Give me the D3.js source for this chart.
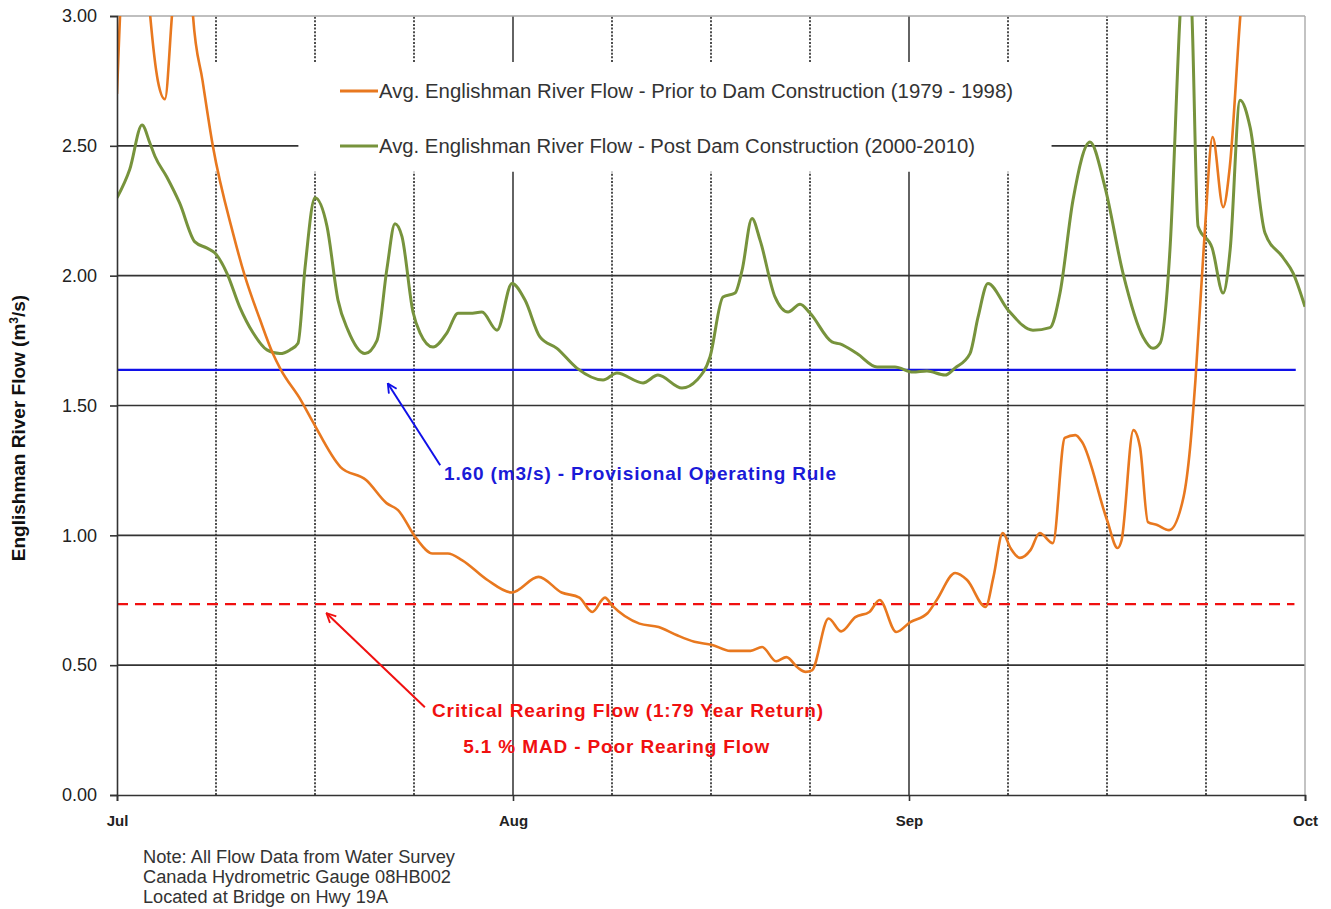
<!DOCTYPE html>
<html>
<head>
<meta charset="utf-8">
<script src="https://cdn.jsdelivr.net/npm/d3@7"></script>
<style>
  body { margin: 0; background: #fff; }
  text { font-family: "Liberation Sans", Arial, sans-serif; }
</style>
</head>
<body>
<script>
// season day 0 = Jul 1, months drawn with equal width
var monthLabels = ["Jul", "Aug", "Sep", "Oct"];
var monthStartDays = [0, 31, 62, 92];
var yTicks = [0, 0.5, 1, 1.5, 2, 2.5, 3];

// Avg. flow prior to dam construction (1979 - 1998)
var preDays = [0, 0.7, 2.0, 2.6, 3.2, 3.75, 4.3, 4.9, 5.5, 5.95, 6.7, 7.5, 9.1, 10.0, 11.2, 12.2, 12.8,
  14.4, 15.3, 17.5, 19.5, 21.1, 22.0, 23.4, 24.7, 25.9, 27.0, 29.0, 30.9, 33.0, 34.8, 36.2, 37.2,
  38.2, 38.75, 40.9, 42.4, 43.8, 45.2, 46.6, 48.0, 49.6, 50.5, 51.6, 52.4, 53.3, 53.9, 54.4, 55.7,
  56.7, 57.8, 58.9, 59.7, 61.0, 62.1, 63.4, 64.1, 65.5, 66.4, 67.8, 68.4, 69.1, 69.7, 70.4, 71.2,
  71.9, 72.9, 73.8, 74.6, 75.1, 77.0, 77.8, 78.1, 79.0, 79.5, 80.1, 80.8, 81.7, 82.8, 83.3, 83.7,
  84.4, 85.0, 85.8, 86.3, 87.1, 87.8, 89.0, 92];
var preFlow = [2.70, 3.35, 3.4, 3.0, 2.75, 2.68, 3.0, 3.4, 3.4, 3.0, 2.75, 2.50, 2.16, 2.00, 1.83, 1.70, 1.64,
  1.52, 1.44, 1.263, 1.213, 1.124, 1.097, 0.99, 0.93, 0.93, 0.905, 0.828, 0.78, 0.84, 0.78, 0.76, 0.705,
  0.76, 0.73, 0.66, 0.647, 0.616, 0.59, 0.578, 0.555, 0.555, 0.57, 0.515, 0.531, 0.49, 0.474, 0.48, 0.68,
  0.63, 0.685, 0.705, 0.751, 0.628, 0.666, 0.70, 0.751, 0.855, 0.828, 0.724, 0.84, 1.009, 0.95, 0.913, 0.943,
  1.009, 0.97, 1.375, 1.386, 1.36, 1.059, 0.951, 0.98, 1.405, 1.34, 1.051, 1.04, 1.02, 1.148, 1.34, 1.598,
  2.164, 2.534, 2.264, 2.418, 3.0, 3.4, 3.8, 4.2];

// Avg. flow post dam construction (2000-2010)
var postDays = [0, 1.0, 1.96, 2.58, 2.97, 3.9, 4.9, 6.1, 7.05, 7.67, 8.6, 9.6, 10.65, 11.74, 12.76, 13.54,
  14.17, 14.72, 15.5, 16.44, 17.3, 18.08, 19.41, 20.35, 21.14, 21.76, 22.31, 23.17, 23.72, 24.74, 25.83,
  26.7, 27.64, 28.57, 29.75, 30.92, 31.94, 33.11, 34.44, 36.0, 38.05, 39.14, 41.18, 42.35, 44.23, 45.4,
  46.42, 47.44, 48.38, 48.93, 49.71, 50.34, 51.51, 52.53, 53.47, 54.25, 55.97, 56.6, 57.93, 59.5, 60.9,
  62.3, 63.36, 64.73, 65.48, 66.62, 67.23, 67.98, 69.5, 71.39, 72.68, 73.44, 74.42, 75.71, 76.85, 78.21,
  79.73, 80.48, 81.02, 81.77, 82.53, 83.0, 83.44, 83.9, 84.97, 85.8, 86.33, 87.08, 87.84, 88.97, 90.33,
  91.1, 92];
var postFlow = [2.30, 2.41, 2.58, 2.51, 2.46, 2.38, 2.28, 2.13, 2.106, 2.087, 2.01, 1.88, 1.78, 1.714, 1.70, 1.714,
  1.74, 2.03, 2.30, 2.19, 1.906, 1.79, 1.70, 1.75, 2.03, 2.20, 2.15, 1.86, 1.78, 1.725, 1.78,
  1.855, 1.855, 1.86, 1.79, 1.97, 1.906, 1.764, 1.72, 1.644, 1.598, 1.625, 1.587, 1.617, 1.567, 1.598,
  1.687, 1.918, 1.933, 2.02, 2.22, 2.137, 1.918, 1.86, 1.89, 1.856, 1.745, 1.737, 1.70, 1.648, 1.648,
  1.629, 1.633, 1.617, 1.644, 1.70, 1.84, 1.97, 1.868, 1.79, 1.80, 1.933, 2.29, 2.515, 2.34, 2.01,
  1.764, 1.72, 1.74, 2.10, 3.0, 3.4, 3.0, 2.19, 2.106, 1.933, 2.10, 2.676, 2.572, 2.164, 2.07,
  2.01, 1.88];

var operatingRule = 1.637;   // drawn level of the 1.60 m3/s rule
var criticalFlow = 0.735;    // critical rearing flow

var margin = {top: 16, right: 26, bottom: 114, left: 117},
    width = 1331 - margin.left - margin.right,
    height = 909 - margin.top - margin.bottom;

var x = d3.scaleLinear()
  .domain(monthStartDays)
  .range(monthStartDays.map(function(d, i) { return i * width / 3; }));

var y = d3.scaleLinear().domain([0, 3]).range([height, 0]);

var svg = d3.select("body").append("svg")
  .attr("width", 1331)
  .attr("height", 909);

var defs = svg.append("defs");
defs.append("clipPath").attr("id", "plotclip")
  .append("rect").attr("width", width).attr("height", height);

function arrowMarker(id, color) {
  defs.append("marker")
    .attr("id", id)
    .attr("viewBox", "0 0 12 12")
    .attr("refX", 11).attr("refY", 6)
    .attr("markerWidth", 11).attr("markerHeight", 11)
    .attr("markerUnits", "userSpaceOnUse")
    .attr("orient", "auto")
    .append("path")
    .attr("d", "M1,1 L11,6 L1,11")
    .attr("fill", "none")
    .attr("stroke", color)
    .attr("stroke-width", 2);
}

var main = svg.append("g")
  .attr("transform", "translate(" + margin.left + "," + margin.top + ")");

// quarter-month dotted lines
var minorDays = [];
for (var i = 0; i < 3; i++) {
  var len = monthStartDays[i + 1] - monthStartDays[i];
  for (var k = 1; k < 4; k++) minorDays.push(monthStartDays[i] + k * len / 4);
}

// legend area gaps
var legendTop = 2.823, legendBottom = 2.40;
var legendLeftDay = 14.2, legendRightDay = 72.8;

function vSegments(d) {
  if (d > 5 && d < 70) return [[0, legendBottom], [legendTop, 3]];
  return [[0, 3]];
}

minorDays.forEach(function(d) {
  vSegments(d).forEach(function(s) {
    main.append("line")
      .attr("x1", x(d)).attr("x2", x(d))
      .attr("y1", y(s[0])).attr("y2", y(s[1]))
      .attr("stroke", "#222")
      .attr("stroke-width", 1.6)
      .attr("stroke-dasharray", "2,1.6");
  });
});

[31, 62].forEach(function(d) {
  vSegments(d).forEach(function(s) {
    main.append("line")
      .attr("x1", x(d)).attr("x2", x(d))
      .attr("y1", y(s[0])).attr("y2", y(s[1]))
      .attr("stroke", "#222")
      .attr("stroke-width", 1.4);
  });
});

// horizontal gridlines
yTicks.forEach(function(v) {
  if (v === 0) return;
  if (v === 3) {
    main.append("line")
      .attr("x1", 0).attr("x2", width)
      .attr("y1", y(v)).attr("y2", y(v))
      .attr("stroke", "#aaa").attr("stroke-width", 1.4);
    return;
  }
  var segs = v === 2.5 ? [[0, legendLeftDay], [legendRightDay, 92]] : [[0, 92]];
  segs.forEach(function(s) {
    main.append("line")
      .attr("x1", x(s[0])).attr("x2", x(s[1]))
      .attr("y1", y(v)).attr("y2", y(v))
      .attr("stroke", "#333").attr("stroke-width", 1.6);
  });
});

// right border
main.append("line")
  .attr("x1", width).attr("x2", width)
  .attr("y1", 0).attr("y2", height)
  .attr("stroke", "#aaa").attr("stroke-width", 1.4);

// reference lines
main.append("line")
  .attr("x1", x(0)).attr("x2", x(91.3))
  .attr("y1", y(operatingRule)).attr("y2", y(operatingRule))
  .attr("stroke", "#1010e8").attr("stroke-width", 2.2);

main.append("line")
  .attr("x1", x(0)).attr("x2", x(91.2))
  .attr("y1", y(criticalFlow)).attr("y2", y(criticalFlow))
  .attr("stroke", "#f01010").attr("stroke-width", 2.4)
  .attr("stroke-dasharray", "11,7");

// series
var line = d3.line()
  .x(function(d) { return x(d[0]); })
  .y(function(d) { return y(d[1]); })
  .curve(d3.curveMonotoneX);

var plot = main.append("g").attr("clip-path", "url(#plotclip)");

plot.append("path")
  .datum(d3.zip(postDays, postFlow))
  .attr("d", line)
  .attr("fill", "none")
  .attr("stroke", "#77933c")
  .attr("stroke-width", 3);

plot.append("path")
  .datum(d3.zip(preDays, preFlow))
  .attr("d", line)
  .attr("fill", "none")
  .attr("stroke", "#e8781f")
  .attr("stroke-width", 2.6);

// axes
var yAxis = d3.axisLeft(y)
  .tickValues(yTicks)
  .tickFormat(d3.format(".2f"))
  .tickSize(7)
  .tickPadding(13);

var yg = main.append("g").call(yAxis);
yg.select(".domain").attr("stroke", "#333").attr("stroke-width", 1.6);
yg.selectAll(".tick line").attr("stroke", "#333").attr("stroke-width", 1.6);
yg.selectAll(".tick text")
  .attr("fill", "#222")
  .style("font-size", "18px");

var xAxis = d3.axisBottom(x)
  .tickValues(monthStartDays)
  .tickFormat(function(d, i) { return monthLabels[i]; })
  .tickSize(6)
  .tickPadding(14);

var xg = main.append("g")
  .attr("transform", "translate(0," + height + ")")
  .call(xAxis);
xg.select(".domain").attr("stroke", "#333").attr("stroke-width", 1.6);
xg.selectAll(".tick line").attr("stroke", "#333").attr("stroke-width", 1.6);
xg.selectAll(".tick text")
  .attr("fill", "#222")
  .style("font-size", "15px")
  .style("font-weight", "bold");

// y axis title
var yt = svg.append("text")
  .attr("transform", "translate(25,428) rotate(-90)")
  .attr("text-anchor", "middle")
  .attr("fill", "#111")
  .style("font-size", "19px")
  .style("font-weight", "bold");
yt.append("tspan").text("Englishman River Flow  (m");
yt.append("tspan").text("3").attr("baseline-shift", "super").style("font-size", "12px");
yt.append("tspan").text("/s)");

// legend
var legend = [
  {label: "Avg. Englishman River Flow - Prior to Dam Construction (1979 - 1998)", color: "#e8781f", y: 91, w: 634},
  {label: "Avg. Englishman River Flow - Post Dam Construction (2000-2010)", color: "#77933c", y: 146, w: 596}
];
legend.forEach(function(l) {
  svg.append("line")
    .attr("x1", 340).attr("x2", 378)
    .attr("y1", l.y).attr("y2", l.y)
    .attr("stroke", l.color).attr("stroke-width", 3);
  svg.append("text")
    .attr("x", 379).attr("y", l.y)
    .attr("dy", "0.35em")
    .attr("fill", "#333")
    .attr("textLength", l.w)
    .attr("lengthAdjust", "spacingAndGlyphs")
    .style("font-size", "20px")
    .text(l.label);
});

// annotations
arrowMarker("arrowBlue", "#1010e8");
arrowMarker("arrowRed", "#f01010");

function note(t, day, v, color, w) {
  main.append("text")
    .attr("x", x(day)).attr("y", y(v))
    .attr("dy", "0.35em")
    .attr("fill", color)
    .attr("textLength", w)
    .attr("lengthAdjust", "spacing")
    .style("font-size", "19px")
    .style("font-weight", "bold")
    .text(t);
}

main.append("line")
  .attr("x1", x(25.3)).attr("y1", y(1.27))
  .attr("x2", x(21.2)).attr("y2", y(1.585))
  .attr("stroke", "#1010e8").attr("stroke-width", 2)
  .attr("marker-end", "url(#arrowBlue)");
note("1.60 (m3/s) - Provisional Operating Rule", 25.6, 1.237, "#1a1ad8", 392);

main.append("line")
  .attr("x1", x(24.1)).attr("y1", y(0.338))
  .attr("x2", x(16.4)).attr("y2", y(0.70))
  .attr("stroke", "#f01010").attr("stroke-width", 2)
  .attr("marker-end", "url(#arrowRed)");
note("Critical Rearing Flow (1:79 Year Return)", 24.66, 0.327, "#f01010", 391);
note("5.1 % MAD - Poor Rearing Flow", 27.1, 0.189, "#f01010", 306);

// source note
var noteLines = ["Note: All Flow Data from Water Survey",
                 "Canada Hydrometric Gauge  08HB002",
                 "Located at Bridge on Hwy 19A"];
var noteWidths = [312, 308, 245];
noteLines.forEach(function(t, i) {
  svg.append("text")
    .attr("x", 143).attr("y", 857 + i * 20)
    .attr("dy", "0.35em")
    .attr("fill", "#333")
    .attr("textLength", noteWidths[i])
    .attr("lengthAdjust", "spacingAndGlyphs")
    .style("font-size", "18px")
    .text(t);
});
</script>
</body>
</html>
